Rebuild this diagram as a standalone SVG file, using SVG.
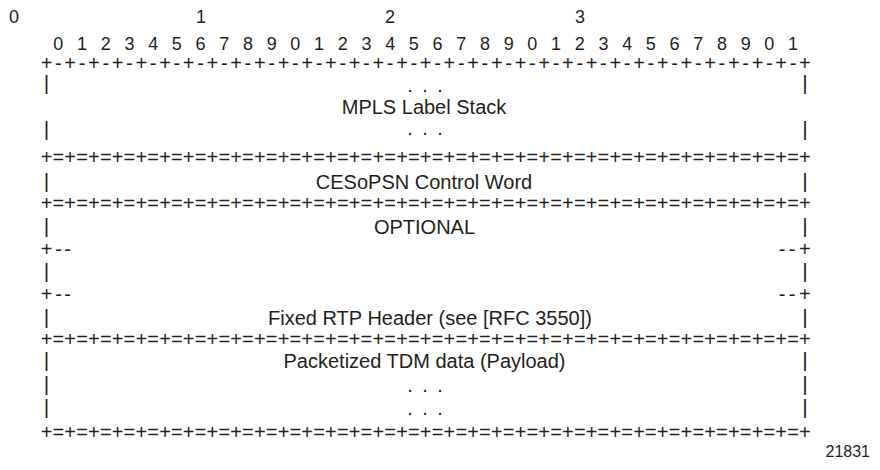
<svg xmlns="http://www.w3.org/2000/svg" xmlns:xlink="http://www.w3.org/1999/xlink" width="880" height="470" viewBox="0 0 880 470">
<style>
text{font-family:"Liberation Sans",Arial,Helvetica,sans-serif;fill:#231f20}
.num{font-size:18px;text-anchor:middle}
.rule{font-size:20px;text-anchor:middle}
.bar{font-size:21px;text-anchor:middle}
.lbl{font-size:20px;text-anchor:middle}
.dot{font-size:20px;text-anchor:middle}
.fig{font-size:16px;text-anchor:end}
</style>
<defs>
<text id="dashRule" class="rule" y="0" x="46.5 58.35 70.2 82.05 93.9 105.75 117.6 129.45 141.3 153.15 165 176.85 188.7 200.55 212.4 224.25 236.1 247.95 259.8 271.65 283.5 295.35 307.2 319.05 330.9 342.75 354.6 366.45 378.3 390.15 402 413.85 425.7 437.55 449.4 461.25 473.1 484.95 496.8 508.65 520.5 532.35 544.2 556.05 567.9 579.75 591.6 603.45 615.3 627.15 639 650.85 662.7 674.55 686.4 698.25 710.1 721.95 733.8 745.65 757.5 769.35 781.2 793.05 804.9">+-+-+-+-+-+-+-+-+-+-+-+-+-+-+-+-+-+-+-+-+-+-+-+-+-+-+-+-+-+-+-+-+</text>
<text id="eqRule" class="rule" y="0" x="46.5 58.35 70.2 82.05 93.9 105.75 117.6 129.45 141.3 153.15 165 176.85 188.7 200.55 212.4 224.25 236.1 247.95 259.8 271.65 283.5 295.35 307.2 319.05 330.9 342.75 354.6 366.45 378.3 390.15 402 413.85 425.7 437.55 449.4 461.25 473.1 484.95 496.8 508.65 520.5 532.35 544.2 556.05 567.9 579.75 591.6 603.45 615.3 627.15 639 650.85 662.7 674.55 686.4 698.25 710.1 721.95 733.8 745.65 757.5 769.35 781.2 793.05 804.9">+=+=+=+=+=+=+=+=+=+=+=+=+=+=+=+=+=+=+=+=+=+=+=+=+=+=+=+=+=+=+=+=+</text>
<text id="bars" class="bar" y="0" x="46.5 804.9">||</text>
<text id="dots" class="dot" y="0" x="410 425 440">...</text>
<text id="halfRule" class="rule" y="0" x="46.5 58.5 67.5 782 792 804.9">+----+</text>
</defs>

<g id="ruler">
<text class="num" y="22.5" x="14 201 390 580">0123</text>
<text class="num" y="50" x="58.35 82.05 105.75 129.45 153.15 176.85 200.55 224.25 247.95 271.65 295.35 319.05 342.75 366.45 390.15 413.85 437.55 461.25 484.95 508.65 532.35 556.05 579.75 603.45 627.15 650.85 674.55 698.25 721.95 745.65 769.35 793.05">01234567890123456789012345678901</text>
<use xlink:href="#dashRule" href="#dashRule" y="70"/>
</g>

<g id="mpls-label-stack">
<use xlink:href="#bars" href="#bars" y="89.5"/>
<use xlink:href="#dots" href="#dots" y="92"/>
<text class="lbl" x="424" y="113.5">MPLS Label Stack</text>
<use xlink:href="#bars" href="#bars" y="135.5"/>
<use xlink:href="#dots" href="#dots" y="135"/>
<use xlink:href="#eqRule" href="#eqRule" y="164"/>
</g>

<g id="cesopsn-control-word">
<use xlink:href="#bars" href="#bars" y="187.5"/>
<text class="lbl" x="424" y="189">CESoPSN Control Word</text>
<use xlink:href="#eqRule" href="#eqRule" y="210"/>
</g>

<g id="optional">
<use xlink:href="#bars" href="#bars" y="233"/>
<text class="lbl" x="424.5" y="234">OPTIONAL</text>
<use xlink:href="#halfRule" href="#halfRule" y="256"/>
<use xlink:href="#bars" href="#bars" y="278"/>
<use xlink:href="#halfRule" href="#halfRule" y="301"/>
</g>

<g id="fixed-rtp-header">
<use xlink:href="#bars" href="#bars" y="323.5"/>
<text class="lbl" x="430" y="325">Fixed RTP Header (see [RFC 3550])</text>
<use xlink:href="#eqRule" href="#eqRule" y="346"/>
</g>

<g id="payload">
<use xlink:href="#bars" href="#bars" y="366.5"/>
<text class="lbl" x="424.5" y="368">Packetized TDM data (Payload)</text>
<use xlink:href="#bars" href="#bars" y="391"/>
<use xlink:href="#dots" href="#dots" y="391.5"/>
<use xlink:href="#bars" href="#bars" y="414"/>
<use xlink:href="#dots" href="#dots" y="414.5"/>
<use xlink:href="#eqRule" href="#eqRule" y="439"/>
</g>

<g id="connectors"></g>

<text id="figure-id" class="fig" x="870" y="457">21831</text>
</svg>
